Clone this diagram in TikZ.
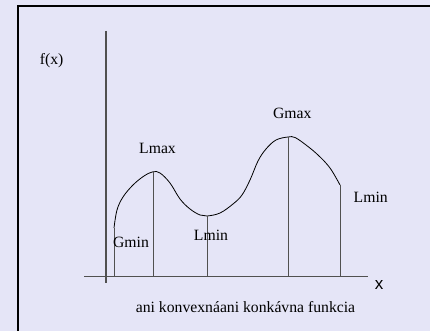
\documentclass[tikz,border=0pt]{standalone}
\usepackage{fontspec}
\setmainfont{Liberation Serif}
\newfontfamily\axisfont{Liberation Sans}
\definecolor{bgcol}{HTML}{E5E5F7}
\definecolor{axiscol}{HTML}{505050}
\tikzset{
  lab/.style={inner sep=0pt, font=\fontsize{15.7}{18}\selectfont},
  drop/.style={axiscol, line width=0.8pt},
}
\begin{document}
\begin{tikzpicture}[x=1pt,y=-1pt]
  \useasboundingbox (0,0) rectangle (430,331);
  \fill[bgcol] (0,0) rectangle (430,331);
  \clip (0,0) rectangle (430,331);
  % frame
  \draw[line width=2.4pt] (18,6.2) rectangle (445,345);
  % axes
  \coordinate (O) at (106,276.3);
  \draw[axiscol, line width=1.8pt] (106,31) -- (106,283);
  \draw[axiscol, line width=1.4pt] (84,276.3) -- (367.7,276.3);
  % extrema on the curve
  \coordinate (Gmin) at (114,228);
  \coordinate (Lmax) at (153,171.8);
  \coordinate (Lmin) at (207,216);
  \coordinate (Gmax) at (288,137);
  \coordinate (Lend) at (340,185);
  % the function
  \draw[line width=0.8pt] plot[smooth, tension=0.6] coordinates {
    (Gmin) (117,210) (123,197) (133,185) (144,176) (Lmax) (160,173) (170,183)
    (180,199) (190,209) (200,215) (Lmin) (220,213) (233,204) (242,195)
    (250,180) (258,161) (266,149) (276,140) (Gmax) (295,137.5) (306,145)
    (318,155) (330,168) (Lend)};
  % drop lines to the x axis
  \foreach \p in {Gmin,Lmax,Lmin,Gmax,Lend}
    \draw[drop] (\p) -- (\p |- O);
  % labels
  \node[lab] (fx) at (51.7,60.7) {f(x)};
  \node[lab] (lmax) at (157.5,148.5) {Lmax};
  \node[lab] (gmax) at (292.3,113) {Gmax};
  \node[lab] (lmin2) at (370.7,197.5) {Lmin};
  \node[lab] (gmin) at (131,242) {Gmin};
  \node[lab] (lmin1) at (211,235) {Lmin};
  \node[lab, font=\axisfont\fontsize{17}{20}\selectfont] (xl) at (379,284.7) {x};
  \node[lab] (cap) at (245.5,307.5) {ani konvexnáani konkávna funkcia};
\end{tikzpicture}
\end{document}
